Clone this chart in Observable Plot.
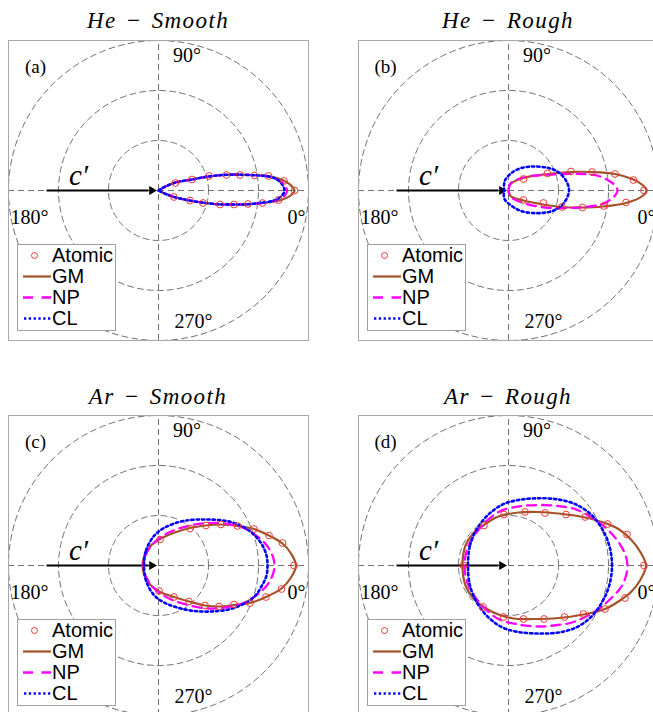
<!DOCTYPE html>
<html><head><meta charset="utf-8">
<script src="https://cdn.jsdelivr.net/npm/d3@7"></script>
<script src="https://cdn.jsdelivr.net/npm/@observablehq/plot@0.6"></script>
<style>
html,body{margin:0;padding:0;background:#fff;}
body{width:653px;height:712px;overflow:hidden;position:relative;}
.title{position:absolute;width:300px;text-align:center;font-family:"Liberation Serif";font-style:italic;font-size:23px;line-height:23px;letter-spacing:1.4px;word-spacing:2px;color:#000;white-space:nowrap;}
.panel{position:absolute;}
.legend{position:absolute;width:97px;height:85px;border:1px solid #a0a0a0;background:#fff;font-family:"Liberation Sans",Arial,sans-serif;font-size:20px;color:#000;}
.row{height:21px;line-height:21px;display:flex;align-items:center;white-space:nowrap;}
.row svg{width:34px;height:21px;flex:none;}
</style></head>
<body>
<script>
// ---------- data (horizontal / vertical components) ----------
const titles = ["He − Smooth", "He − Rough", "Ar − Smooth", "Ar − Rough"];
const panelTags = ["(a)", "(b)", "(c)", "(d)"];
const angleLabels = ["0°", "90°", "180°", "270°"];
const seriesNames = ["Atomic", "GM", "NP", "CL"];
const ringValues = [1, 2, 3];

// (a) He - Smooth
const atomicA = [[0.34,0.15],[0.67,0.22],[1.01,0.29],[1.36,0.31],[1.63,0.31],[1.92,0.3],[2.2,0.29],[2.51,0.19],[2.72,0],
  [2.4,-0.19],[2.08,-0.25],[1.79,-0.27],[1.51,-0.28],[1.23,-0.28],[0.89,-0.25],[0.63,-0.2],[0.31,-0.13]];
const gmA = [[0,0],[0.12,0.07],[0.34,0.16],[0.67,0.22],[1.0,0.28],[1.36,0.315],[1.7,0.315],[2.0,0.305],[2.25,0.28],[2.48,0.21],[2.63,0.12],[2.72,0],
  [2.63,-0.11],[2.45,-0.19],[2.1,-0.25],[1.79,-0.275],[1.5,-0.28],[1.2,-0.275],[0.9,-0.245],[0.62,-0.2],[0.31,-0.13],[0.1,-0.05],[0,0]];
const npA = [[0,0],[0.12,0.07],[0.34,0.16],[0.67,0.22],[1.0,0.28],[1.36,0.315],[1.7,0.315],[2.0,0.3],[2.25,0.27],[2.43,0.19],[2.53,0.1],[2.57,0],
  [2.53,-0.1],[2.4,-0.18],[2.1,-0.245],[1.79,-0.275],[1.5,-0.28],[1.2,-0.275],[0.9,-0.245],[0.62,-0.2],[0.31,-0.13],[0.1,-0.05],[0,0]];
const clA = [[0,0],[0.12,0.07],[0.34,0.16],[0.67,0.22],[1.0,0.28],[1.36,0.315],[1.7,0.315],[2.0,0.3],[2.2,0.28],[2.37,0.22],[2.48,0.11],[2.52,0],
  [2.47,-0.1],[2.31,-0.2],[2.05,-0.245],[1.79,-0.275],[1.5,-0.28],[1.2,-0.275],[0.9,-0.245],[0.62,-0.2],[0.31,-0.13],[0.1,-0.05],[0,0]];

// (b) He - Rough
const atomicB = [[0.3,0.23],[0.78,0.34],[1.25,0.38],[1.67,0.37],[2.13,0.33],[2.5,0.21],[2.71,0],
  [2.35,-0.24],[1.9,-0.31],[1.48,-0.34],[1.07,-0.33],[0.7,-0.25],[0.3,-0.19]];
const gmB = [[0,0],[0.04,0.13],[0.3,0.25],[0.78,0.33],[1.25,0.37],[1.67,0.37],[2.13,0.33],[2.5,0.22],[2.68,0.11],[2.76,0],
  [2.68,-0.11],[2.35,-0.25],[1.9,-0.32],[1.48,-0.34],[1.07,-0.33],[0.7,-0.28],[0.3,-0.2],[0.04,-0.11],[0,0]];
const npB = [[0,0],[0.04,0.14],[0.33,0.27],[0.73,0.31],[1.1,0.33],[1.5,0.33],[1.8,0.29],[2.0,0.2],[2.14,0.09],[2.18,0],
  [2.14,-0.09],[2.04,-0.18],[1.88,-0.27],[1.4,-0.34],[0.73,-0.34],[0.27,-0.24],[0.04,-0.12],[0,0]];
const clB = [[-0.09,0],[-0.07,0.2],[0.1,0.38],[0.3,0.46],[0.53,0.48],[0.8,0.45],[0.98,0.38],[1.15,0.2],[1.21,0],
  [1.13,-0.22],[0.95,-0.38],[0.75,-0.44],[0.47,-0.45],[0.25,-0.41],[0.08,-0.32],[-0.08,-0.17]];

// (c) Ar - Smooth
const atomicC = [[0.03,0.52],[0.63,0.74],[0.95,0.8],[1.25,0.82],[1.58,0.79],[1.91,0.73],[2.21,0.6],[2.48,0.45],[2.71,0],
  [2.46,-0.47],[2.15,-0.63],[1.83,-0.75],[1.51,-0.78],[1.21,-0.82],[0.93,-0.8],[0.61,-0.72],[0.31,-0.63],[0.01,-0.51]];
const gmC = [[-0.32,0],[-0.28,0.2],[-0.17,0.38],[0.03,0.53],[0.3,0.65],[0.63,0.75],[0.95,0.8],[1.25,0.82],[1.58,0.79],[1.91,0.73],[2.21,0.6],[2.48,0.44],[2.65,0.24],[2.75,0],
  [2.65,-0.24],[2.46,-0.46],[2.15,-0.63],[1.83,-0.75],[1.51,-0.79],[1.21,-0.82],[0.93,-0.8],[0.61,-0.72],[0.31,-0.63],[0.01,-0.52],[-0.17,-0.38],[-0.28,-0.2]];
const npC = [[-0.3,0],[-0.26,0.2],[-0.14,0.4],[0.05,0.57],[0.3,0.7],[0.63,0.8],[1.0,0.85],[1.4,0.83],[1.7,0.75],[1.95,0.6],[2.15,0.42],[2.28,0.2],[2.32,0],
  [2.28,-0.2],[2.15,-0.42],[1.95,-0.6],[1.7,-0.75],[1.4,-0.83],[1.0,-0.86],[0.63,-0.8],[0.3,-0.7],[0.05,-0.57],[-0.14,-0.4],[-0.26,-0.2]];
const clC = [[-0.29,0],[-0.25,0.3],[-0.1,0.58],[0.11,0.75],[0.5,0.89],[0.98,0.92],[1.45,0.87],[1.81,0.7],[2.05,0.45],[2.16,0.2],[2.18,0],
  [2.16,-0.2],[2.07,-0.4],[1.91,-0.63],[1.51,-0.85],[1.05,-0.92],[0.58,-0.89],[0.11,-0.74],[-0.1,-0.58],[-0.25,-0.3]];

// (d) Ar - Rough
const atomicD = [[-0.9,0],[-0.49,0.8],[-0.09,1.02],[0.33,1.07],[0.73,1.05],[1.15,1.02],[1.53,0.97],[1.98,0.83],[2.37,0.62],[2.71,0],
  [2.33,-0.65],[1.93,-0.87],[1.5,-0.97],[1.12,-1.03],[0.71,-1.07],[0.3,-1.07],[-0.1,-1.03],[-0.51,-0.83]];
const gmD = [[-0.92,0],[-0.86,0.4],[-0.7,0.65],[-0.49,0.81],[-0.2,0.98],[0.2,1.06],[0.6,1.07],[1.0,1.04],[1.5,0.97],[1.9,0.86],[2.2,0.73],[2.45,0.52],[2.63,0.28],[2.75,0],
  [2.63,-0.3],[2.45,-0.53],[2.2,-0.72],[1.93,-0.87],[1.5,-0.98],[1.0,-1.05],[0.5,-1.07],[0.1,-1.06],[-0.2,-0.98],[-0.5,-0.83],[-0.7,-0.66],[-0.86,-0.4]];
const npD = [[-0.88,0],[-0.8,0.4],[-0.55,0.77],[-0.2,1.07],[0.2,1.18],[0.6,1.21],[1.0,1.19],[1.35,1.12],[1.73,0.92],[2.07,0.63],[2.3,0.3],[2.38,0],
  [2.3,-0.35],[2.2,-0.5],[1.95,-0.75],[1.73,-0.92],[1.3,-1.13],[0.9,-1.2],[0.6,-1.22],[0.2,-1.18],[-0.2,-1.07],[-0.55,-0.78],[-0.8,-0.4]];
const clD = [[-0.81,0],[-0.77,0.4],[-0.62,0.75],[-0.4,1.02],[-0.12,1.22],[0.2,1.31],[0.6,1.345],[1.0,1.32],[1.35,1.22],[1.65,1.02],[1.88,0.72],[2.02,0.38],[2.07,0],
  [2.02,-0.38],[1.88,-0.72],[1.65,-1.03],[1.35,-1.24],[1.0,-1.34],[0.6,-1.36],[0.2,-1.33],[-0.12,-1.24],[-0.4,-1.04],[-0.62,-0.76],[-0.77,-0.4]];

// ---------- styling / layout ----------
const colors = {Atomic: "#ec3b35", GM: "#a4522a", NP: "#ff00ff", CL: "#0000ff"};
const panels = [
  {atomic: atomicA, gm: gmA, np: npA, cl: clA, closed: false, clClosed: false, left: 8, top: 40, titleTop: 9},
  {atomic: atomicB, gm: gmB, np: npB, cl: clB, closed: false, clClosed: true, left: 358, top: 40, titleTop: 9},
  {atomic: atomicC, gm: gmC, np: npC, cl: clC, closed: true, clClosed: true, left: 8, top: 415, titleTop: 385},
  {atomic: atomicD, gm: gmD, np: npD, cl: clD, closed: true, clClosed: true, left: 358, top: 415, titleTop: 385}
];
const labelPos = {"0°": [2.76, -0.55], "90°": [0.57, 2.7], "180°": [-2.58, -0.55], "270°": [0.7, -2.63]};
const serif = "Liberation Serif";
const gridStroke = "#707070";
const gridDash = "6,4";

const ringPts = ringValues.flatMap(r => d3.range(0, 361, 2).map(a => ({r, a: a * Math.PI / 180})));

panels.forEach((p, i) => {
  const t = document.createElement("div");
  t.className = "title";
  t.style.left = p.left + "px";
  t.style.top = p.titleTop + "px";
  t.textContent = titles[i];
  document.body.appendChild(t);

  const xf = d => d[0], yf = d => d[1];
  const chart = Plot.plot({
    width: 300, height: 300, margin: 0,
    x: {domain: [-3, 3], axis: null},
    y: {domain: [-3, 3], axis: null},
    style: {overflow: "visible", background: "transparent"},
    marks: [
      Plot.line(ringPts, {x: d => d.r * Math.cos(d.a), y: d => d.r * Math.sin(d.a), z: "r", stroke: gridStroke, strokeWidth: 1, strokeDasharray: gridDash}),
      Plot.ruleX([0], {y1: -3, y2: 3, stroke: gridStroke, strokeWidth: 1, strokeDasharray: gridDash}),
      Plot.ruleY([0], {x1: -3, x2: 3, stroke: gridStroke, strokeWidth: 1, strokeDasharray: gridDash}),
      Plot.frame({stroke: "#a8a8a8", strokeWidth: 1}),
      Plot.text(angleLabels, {x: d => labelPos[d][0], y: d => labelPos[d][1], text: d => d, fontFamily: serif, fontSize: 20, fill: "#000"}),
      Plot.text([panelTags[i]], {x: -2.46, y: 2.47, text: d => d, fontFamily: serif, fontSize: 19, fill: "#000"}),
      Plot.link([0], {x1: -2.24, y1: 0, x2: -0.2, y2: 0, stroke: "#000", strokeWidth: 2}),
      Plot.dot([0], {x: -0.134, y: 0, symbol: "triangle2", r: 4.3, fill: "#000", stroke: "none", rotate: 90}),
      Plot.text(["c′"], {x: -1.6, y: 0.3, text: d => d, fontFamily: serif, fontStyle: "italic", fontSize: 29, fill: "#000"}),
      Plot.line(p.gm, {x: xf, y: yf, curve: p.closed ? "catmull-rom-closed" : "catmull-rom", stroke: colors.GM, strokeWidth: 2.2}),
      Plot.line(p.np, {x: xf, y: yf, curve: p.closed ? "catmull-rom-closed" : "catmull-rom", stroke: colors.NP, strokeWidth: 2.3, strokeDasharray: "9,6"}),
      Plot.line(p.cl, {x: xf, y: yf, curve: p.clClosed ? "catmull-rom-closed" : "catmull-rom", stroke: colors.CL, strokeWidth: 2.6, strokeDasharray: "2.3,3"}),
      Plot.dot(p.atomic, {x: xf, y: yf, r: 3.4, stroke: colors.Atomic, fill: "none", strokeWidth: 1})
    ]
  });
  chart.classList.add("panel");
  chart.style.left = p.left + "px";
  chart.style.top = p.top + "px";
  chart.style.position = "absolute";
  document.body.appendChild(chart);

  // legend
  const lg = document.createElement("div");
  lg.className = "legend";
  lg.style.left = (p.left + 9) + "px";
  lg.style.top = (p.top + 204) + "px";
  const swatch = {
    Atomic: `<circle cx="16.5" cy="10.5" r="3" fill="none" stroke="${colors.Atomic}" stroke-width="1"/>`,
    GM: `<line x1="5" x2="33" y1="10.5" y2="10.5" stroke="${colors.GM}" stroke-width="2.2"/>`,
    NP: `<line x1="5" x2="33" y1="10.5" y2="10.5" stroke="${colors.NP}" stroke-width="2.3" stroke-dasharray="10,8.5"/>`,
    CL: `<line x1="6" x2="33" y1="10.5" y2="10.5" stroke="${colors.CL}" stroke-width="2.6" stroke-dasharray="2.3,2.5"/>`
  };
  lg.innerHTML = seriesNames.map(n => `<div class="row"><svg viewBox="0 0 34 21">${swatch[n]}</svg><span>${n}</span></div>`).join("");
  document.body.appendChild(lg);
});
</script>
</body></html>
